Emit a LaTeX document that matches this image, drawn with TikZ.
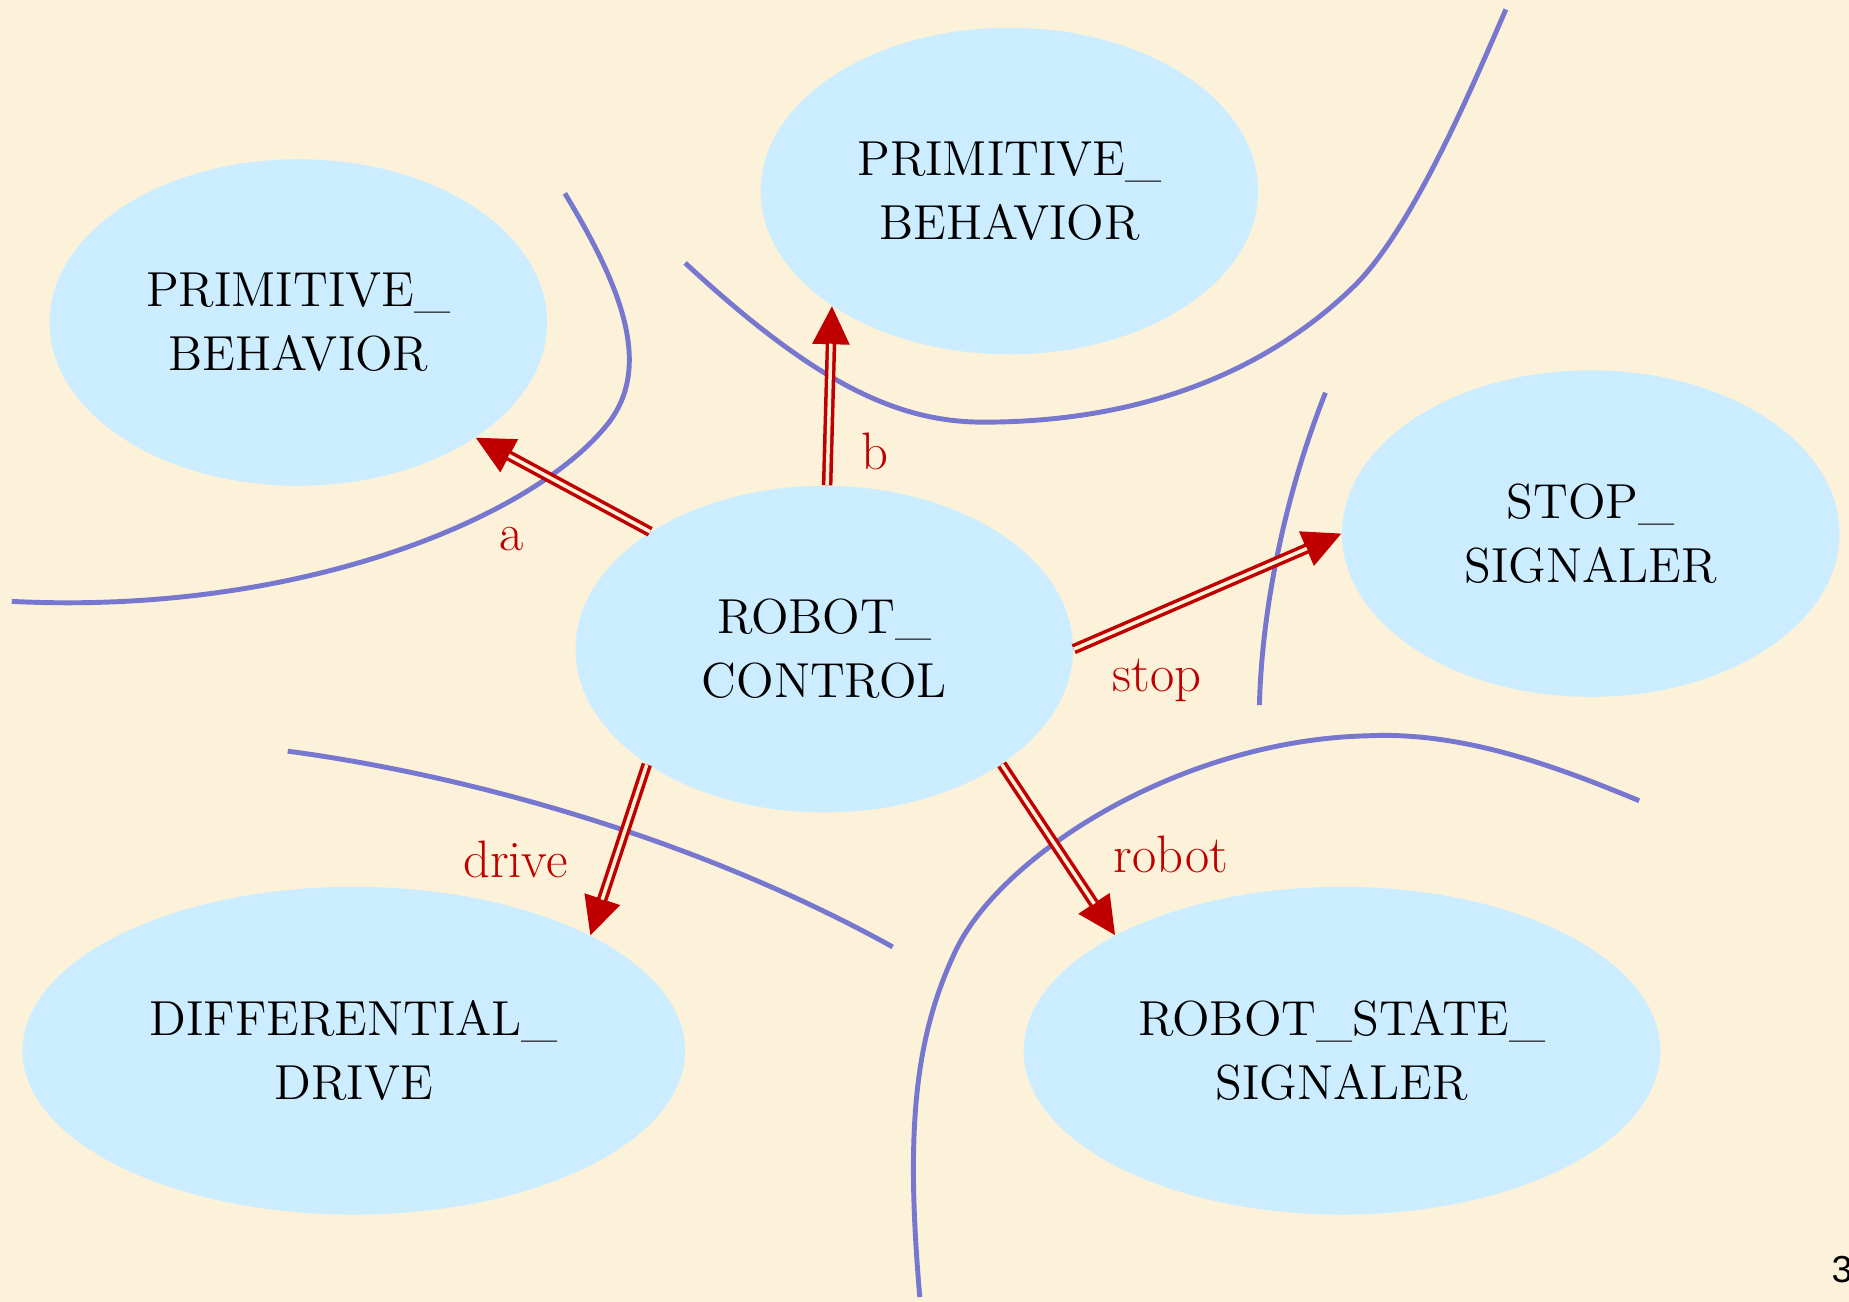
\documentclass[tikz,border=0pt]{standalone}
\usepackage{fontspec}
\newfontfamily\pagenumfont{Liberation Sans}
\usetikzlibrary{shapes.geometric,arrows.meta}
\definecolor{bgcream}{RGB}{252,242,217}
\definecolor{ellblue}{RGB}{204,236,255}
\definecolor{curveblue}{RGB}{119,119,208}
\definecolor{arrred}{RGB}{192,0,0}
\begin{document}
\begin{tikzpicture}[x=0.011792cm,y=-0.011792cm,
  comp/.style={ellipse, fill=ellblue, inner sep=0pt, minimum width=4.976cm, minimum height=3.266cm, align=center, font=\fontsize{14}{18.2}\selectfont},
  widecomp/.style={comp, minimum width=6.627cm, minimum height=3.278cm},
  midcomp/.style={comp, minimum width=6.368cm, minimum height=3.278cm},
  bline/.style={draw=curveblue, line width=1.4pt},
  headline/.style={draw=arrred, line width=0.8pt, -{Triangle[length=0.38cm,width=0.37cm]}},
  shaftline/.style={draw=arrred, line width=1pt, double=bgcream, double distance=1pt, shorten >=0.375cm},
  lbl/.style={anchor=base, text=arrred, inner sep=0pt, font=\fontsize{15}{18}\selectfont}
]
\useasboundingbox (0,0) rectangle (1568,1104);
\fill[bgcream] (0,0) rectangle (1568,1104);

% separating curves
\draw[bline] (479,164) .. controls (525,240) and (555,310) .. (515,360)
  .. controls (450,441) and (250,522) .. (10,510);
\draw[bline] (581,223) .. controls (690,324) and (760,358) .. (834,358)
  .. controls (960,358) and (1070,320) .. (1150,241)
  .. controls (1200,190) and (1250,70) .. (1277,8);
\draw[bline] (1124,333) .. controls (1088,424) and (1070,520) .. (1068,598);
\draw[bline] (780,1100) .. controls (768,960) and (775,880) .. (811,805)
  .. controls (850,725) and (1000,628) .. (1159,624)
  .. controls (1240,620) and (1320,650) .. (1390,679);
\draw[bline] (244,637) .. controls (380,655) and (580,705) .. (757,803);

% components
\node[comp] (tl) at (253,273.5) {PRIMITIVE\_\\BEHAVIOR};
\node[comp] (tp) at (856,162) {PRIMITIVE\_\\BEHAVIOR};
\node[comp] (st) at (1349,452.5) {STOP\_\\SIGNALER};
\node[comp] (rc) at (699,550.5) {ROBOT\_\\CONTROL};
\node[widecomp] (dd) at (300,891) {DIFFERENTIAL\_\\DRIVE};
\node[midcomp] (rs) at (1138,891) {ROBOT\_STATE\_\\SIGNALER};

% arrows: heads first, then double shafts
\draw[headline] (rc.146.8) -- (tl.-33.3);
\draw[shaftline] (rc.146.8) -- (tl.-33.3);
\draw[headline] (rc.89.6) -- (tp.213.9);
\draw[shaftline] (rc.89.6) -- (tp.213.9);
\draw[headline] (rc.0.7) -- (st.180);
\draw[shaftline] (rc.0.7) -- (st.180);
\draw[headline] (rc.213.7) -- (dd.26.6);
\draw[shaftline] (rc.213.7) -- (dd.26.6);
\draw[headline] (rc.-33.7) -- (rs.153);
\draw[shaftline] (rc.-33.7) -- (rs.153);

% labels
\node[lbl] (la) at (434,467) {a};
\node[lbl] (lb) at (742,398) {b};
\node[lbl] (ls) at (981,586) {stop};
\node[lbl] (ld) at (437,744) {drive};
\node[lbl] (lr) at (993,740) {robot};

\node[anchor=base, inner sep=0pt, font=\pagenumfont\fontsize{10.7}{12}\selectfont] (pg) at (1562,1088) {3};
\end{tikzpicture}
\end{document}
